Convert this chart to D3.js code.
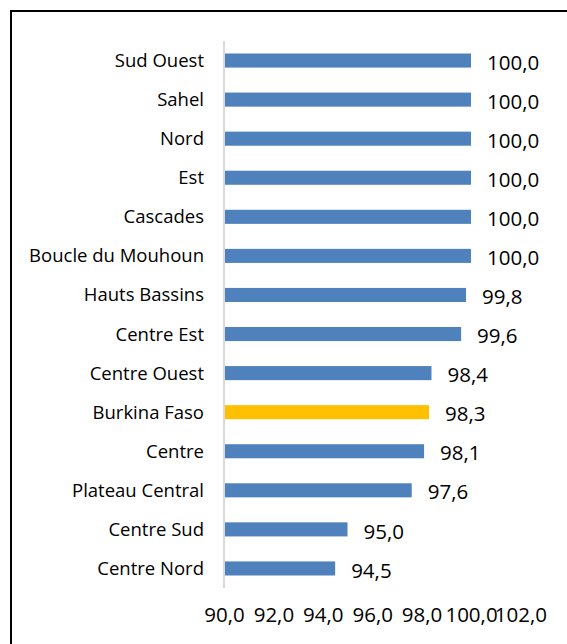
<!DOCTYPE html>
<html>
<head>
<meta charset="utf-8">
<script src="https://cdn.jsdelivr.net/npm/d3@7"></script>
<style>
  body { margin: 0; background: #fff; }
  text { font-family: "Open Sans", "Noto Sans", sans-serif; fill: #000; }
</style>
</head>
<body>
<div id="vis-container"></div>
<script>
// data
const regions = ["Sud Ouest", "Sahel", "Nord", "Est", "Cascades", "Boucle du Mouhoun",
  "Hauts Bassins", "Centre Est", "Centre Ouest", "Burkina Faso", "Centre",
  "Plateau Central", "Centre Sud", "Centre Nord"];
const values = [100.0, 100.0, 100.0, 100.0, 100.0, 100.0, 99.8, 99.6, 98.4, 98.3, 98.1, 97.6, 95.0, 94.5];
const highlight = "Burkina Faso";
const xTicks = [90, 92, 94, 96, 98, 100, 102];

const W = 567, H = 644;
const fmt = v => v.toFixed(1).replace(".", ",");

const svg = d3.select("#vis-container")
  .append("svg")
    .attr("width", W)
    .attr("height", H);

// frame
svg.append("path")
  .attr("d", `M11,${H} L11,11 L${W},11`)
  .attr("fill", "none")
  .attr("stroke", "#000")
  .attr("stroke-width", 2);

const x = d3.scaleLinear()
  .domain([90, 102])
  .range([224, 520.4]);

const y = d3.scaleBand()
  .domain(regions)
  .range([41, 588])
  .paddingInner(0.64)
  .paddingOuter(0.32);

const data = regions.map((r, i) => ({ region: r, value: values[i] }));

// bars
svg.selectAll("rect.bar")
  .data(data)
  .enter()
    .append("rect")
    .attr("class", "bar")
    .attr("x", x(90))
    .attr("y", d => y(d.region))
    .attr("width", d => x(d.value) - x(90))
    .attr("height", y.bandwidth())
    .attr("fill", d => d.region === highlight ? "#FFC000" : "#4F81BD");

// vertical axis line
svg.append("line")
  .attr("x1", x(90)).attr("x2", x(90))
  .attr("y1", 41).attr("y2", 588)
  .attr("stroke", "#d9d9d9")
  .attr("stroke-width", 2);

// category labels
svg.selectAll("text.cat")
  .data(data)
  .enter()
    .append("text")
    .attr("class", "cat")
    .attr("x", 204)
    .attr("y", d => y(d.region) + y.bandwidth() / 2)
    .attr("dy", "0.35em")
    .attr("text-anchor", "end")
    .style("font-size", "18.5px")
    .text(d => d.region);

// value labels
svg.selectAll("text.val")
  .data(data)
  .enter()
    .append("text")
    .attr("class", "val")
    .attr("x", d => x(d.value) + 16)
    .attr("y", d => y(d.region) + y.bandwidth() / 2 + 2)
    .attr("dy", "0.35em")
    .style("font-size", "20.5px")
    .text(d => fmt(d.value));

// x axis, labels only
const xAxis = svg.append("g")
  .attr("transform", "translate(0, 604)")
  .call(d3.axisBottom(x).tickValues(xTicks).tickFormat(fmt).tickSize(0));
xAxis.select(".domain").remove();
xAxis.selectAll("text")
  .style("font-family", "'Open Sans', 'Noto Sans', sans-serif")
  .style("font-size", "20.5px")
  .attr("fill", "#000");
</script>
</body>
</html>
